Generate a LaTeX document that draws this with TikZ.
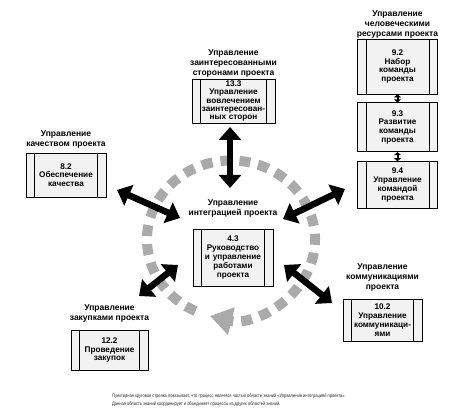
\documentclass[tikz,border=0pt]{standalone}
\usepackage{fontspec}
\setmainfont{Liberation Sans}
\newfontfamily\notefont[FakeStretch=0.82]{Liberation Sans}
\usetikzlibrary{arrows.meta, positioning, calc}
\definecolor{boxgray}{RGB}{242,242,242}
\definecolor{dashgray}{RGB}{170,170,170}
\tikzset{
  proc/.style={draw, line width=0.8pt, fill=boxgray, minimum width=80pt, text width=66pt,
    align=center, inner sep=0pt, font=\bfseries\fontsize{8.2}{8.8}\selectfont,
    path picture={
      \draw[line width=0.8pt] ([xshift=8.5pt]path picture bounding box.north west) -- ([xshift=8.5pt]path picture bounding box.south west);
      \draw[line width=0.8pt] ([xshift=-8.5pt]path picture bounding box.north east) -- ([xshift=-8.5pt]path picture bounding box.south east);
    }},
  area/.style={align=center, inner sep=0pt, font=\bfseries\fontsize{8.5}{9.8}\selectfont},
  bigarrow/.style={line width=6.5pt, {Triangle[length=13pt,width=22pt]}-{Triangle[length=13pt,width=22pt]}},
  smallarrow/.style={line width=2pt, {Triangle[length=3pt,width=7pt]}-{Triangle[length=3pt,width=7pt]}},
  circarrow/.style={dashgray, line width=10pt, dash pattern=on 11pt off 8pt, -{Triangle[length=22pt,width=27pt]}},
}

\begin{document}
\begin{tikzpicture}[x=1pt, y=1pt]
    \useasboundingbox (0,0) rectangle (459,411);

    % круговая стрелка
    \coordinate (c) at (231,171.5);
    \draw[circarrow] ($(c)+(245:84pt and 79pt)$) arc[start angle=245, end angle=-104.5, x radius=84pt, y radius=79pt];

    % интеграция
    \node[proc, minimum height=57pt] (b43) at (233,153.5) {4.3\\Руководство\\и~управление\\работами\\проекта};
    \node[area, above=11.4pt of b43] (t43) {Управление\\интеграцией проекта};

    % заинтересованные стороны
    \node[proc, minimum width=83pt, minimum height=44pt, font=\bfseries\fontsize{8.2}{8.3}\selectfont] (b133) at (233.5,310) {13.3\\Управление\\вовлечением\\\mbox{заинтересован-}\\ных сторон};
    \node[area, above=1.4pt of b133] (t133) {Управление\\заинтересованными\\сторонами проекта};

    % человеческие ресурсы
    \node[proc, minimum height=55pt] (b92) at (397.5,344.5) {9.2\\Набор\\команды\\проекта};
    \node[proc, minimum height=49pt, below=8pt of b92] (b93) {9.3\\Развитие\\команды\\проекта};
    \node[proc, minimum height=47pt, below=9pt of b93] (b94) {9.4\\Управление\\командой\\проекта};
    \node[area, above=0.5pt of b92] (t92) {Управление\\человеческими\\ресурсами проекта};
    \draw[smallarrow] (b92) -- (b93);
    \draw[smallarrow] (b93) -- (b94);

    % качество
    \node[proc, minimum height=44pt] (b82) at (66,236) {8.2\\Обеспечение\\качества};
    \node[area, above=4.4pt of b82] (t82) {Управление\\качеством проекта};

    % коммуникации
    \node[proc, minimum width=79pt, minimum height=42pt] (b102) at (382.5,91) {10.2\\Управление\\\mbox{коммуникаци-}\\ями};
    \node[area, above=7.4pt of b102] (t102) {Управление\\коммуникациями\\проекта};

    % закупки
    \node[proc, minimum width=77pt, minimum height=40pt] (b122) at (109.5,61) {12.2\\Проведение\\закупок};
    \node[area, above=7.4pt of b122] (t122) {Управление\\закупками проекта};

    % двусторонние стрелки
    \coordinate (v1) at (230,284);  \coordinate (v2) at (230,223);
    \coordinate (l1) at (117,221);  \coordinate (l2) at (180,193);
    \coordinate (r1) at (345,222);  \coordinate (r2) at (283,192);
    \coordinate (ll1) at (178,146); \coordinate (ll2) at (139,115);
    \coordinate (lr1) at (284,146); \coordinate (lr2) at (332,108);
    \draw[bigarrow] (v1) -- (v2);
    \draw[bigarrow] (l1) -- (l2);
    \draw[bigarrow] (r1) -- (r2);
    \draw[bigarrow] (ll1) -- (ll2);
    \draw[bigarrow] (lr1) -- (lr2);

    % примечание
    \node[anchor=west, align=left, inner sep=0pt, text=black!85,
      font=\notefont\fontsize{4.9}{8}\selectfont] (note) at (112,11)
      {Пунктирная круговая стрелка показывает, что процесс является частью области знаний «Управление интеграцией проекта».\\
       Данная область знаний координирует и объединяет процессы из других областей знаний.};
\end{tikzpicture}
\end{document}
